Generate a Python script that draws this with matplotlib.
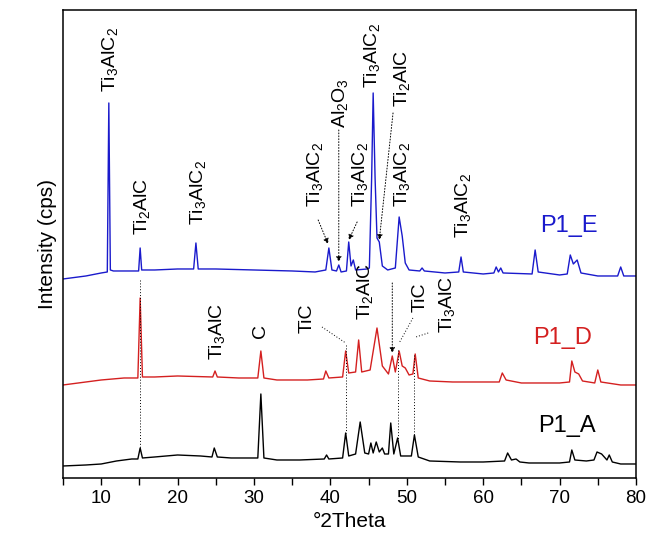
import numpy as np
import matplotlib
matplotlib.use("Agg")
from matplotlib import pyplot as plt

plt.rcParams['font.family'] = ['Liberation Sans', 'DejaVu Sans']
plt.rcParams['mathtext.default'] = 'regular'

# P1_A pattern (stacked intensity, arbitrary units)
a_x = [5, 8, 10, 12, 14, 14.8, 15.1, 15.4, 17, 20, 23, 24.5, 24.8, 25.2, 27, 30.5, 30.9, 31.3,
       33, 36, 39.2, 39.5, 39.8, 41.6, 42.0, 42.4, 43.3, 43.9, 44.5, 45.0, 45.3, 45.6, 46.0, 46.4,
       46.8, 47.1, 47.6, 47.9, 48.3, 48.8, 49.2, 50.6, 51.0, 51.5, 53, 57, 60, 62.8, 63.2, 63.7,
       64.3, 64.8, 66, 70, 71.3, 71.6, 72.0, 73.5, 74.5, 74.9, 75.5, 76.2, 76.5, 76.9, 78, 80]
a_y = [12, 13, 14, 17, 19, 19, 30, 20, 21, 23, 22, 21, 30, 21, 20, 20, 84, 20,
       18, 18, 19, 23, 19, 20, 45, 22, 24, 56, 25, 24, 35, 25, 36, 26,
       30, 24, 24, 55, 24, 40, 22, 22, 43, 21, 17, 16, 16, 17, 25, 18,
       19, 16, 15, 15, 16, 28, 18, 17, 18, 26, 24, 18, 23, 16, 14, 14]

# P1_D pattern
d_x = [5, 7, 10, 13, 14.8, 15.1, 15.4, 17, 20, 24.6, 24.9, 25.2, 28, 30.5, 30.9, 31.3, 33, 37,
       39.1, 39.4, 39.8, 41.6, 42.0, 42.4, 43.3, 43.7, 44.1, 45.2, 46.1, 46.8, 47.6, 48.1, 48.5,
       49.0, 49.4, 49.8, 50.3, 50.8, 51.1, 51.5, 53, 56, 60, 62.1, 62.5, 63.0, 65, 70, 71.3,
       71.6, 72.0, 72.5, 73.0, 74.6, 75.0, 75.4, 78, 80]
d_y = [93, 95, 98, 100, 100, 180, 101, 101, 102, 101, 107, 101, 100, 100, 127, 100, 98, 98,
       99, 107, 100, 101, 127, 105, 106, 138, 106, 108, 150, 112, 104, 122, 106,
       127, 112, 110, 103, 104, 124, 100, 97, 96, 96, 96, 105, 98, 95, 95, 96,
       117, 106, 104, 97, 95, 108, 96, 93, 93]

# P1_E pattern
e_x = [5, 8, 10, 10.8, 11.0, 11.2, 11.6, 13, 14.9, 15.1, 15.3, 17, 20, 22.1, 22.4, 22.7, 25, 30,
       35, 38, 39.4, 39.8, 40.2, 40.8, 41.1, 41.4, 42.1, 42.4, 42.7, 43.0, 43.3, 44.8, 45.1,
       45.4, 45.6, 45.85, 46.1, 46.4, 46.8, 47.5, 48.5, 49.0, 49.4, 49.8, 50.3, 51.7, 52.0,
       52.3, 55, 56.8, 57.1, 57.4, 60, 61.4, 61.7, 62.0, 62.3, 62.6, 66.4, 66.8, 67.2, 70,
       71.0, 71.4, 71.8, 72.3, 72.8, 75, 77.6, 78.0, 78.4, 80]
e_y = [199, 202, 205, 206, 375, 208, 207, 207, 207, 230, 208, 208, 209, 209, 235, 209, 209, 208,
       207, 206, 208, 230, 208, 207, 213, 206, 207, 236, 212, 218, 208, 209, 210,
       300, 385, 300, 240, 236, 212, 208, 210, 261, 242, 215, 208, 207, 210,
       207, 205, 206, 221, 206, 204, 205, 211, 206, 210, 205, 204, 228, 206, 203,
       204, 223, 214, 218, 205, 202, 202, 211, 202, 202]

# phase labels: text, x, bottom of text
labels = [
    ('Ti$_3$AlC$_2$', 11.1, 386), ('Ti$_2$AlC', 15.4, 243), ('Ti$_3$AlC$_2$', 22.7, 253),
    ('Ti$_3$AlC$_2$', 38.0, 271), ('Al$_2$O$_3$', 41.3, 350), ('Ti$_3$AlC$_2$', 43.9, 271),
    ('Ti$_3$AlC$_2$', 45.5, 390), ('Ti$_2$AlC', 49.4, 371), ('Ti$_3$AlC$_2$', 49.4, 271),
    ('Ti$_3$AlC$_2$', 57.4, 240),
    ('Ti$_3$AlC', 25.2, 118), ('C', 30.8, 140), ('TiC', 37.0, 145), ('Ti$_2$AlC', 44.5, 158),
    ('TiC', 51.7, 166), ('Ti$_3$AlC', 55.3, 145),
]

# dotted pointers: x0, y0, x1, y1, arrow head
pointers = [
    (38.4, 258, 39.7, 234, True), (41.1, 348, 41.1, 216, True), (43.5, 256, 42.4, 238, True),
    (48.2, 365, 46.4, 238, True), (48.1, 195, 48.1, 125, True),
    (15.1, 198, 15.1, 28, False), (42.0, 133, 42.0, 45, False), (48.9, 128, 48.9, 38, False),
    (51.0, 123, 51.0, 43, False), (38.9, 151, 42.0, 135, False), (50.8, 160, 49.0, 135, False),
    (52.8, 145, 51.2, 141, False),
]

samples = [('P1_A', 67.2, 52, 'black'), ('P1_D', 66.5, 140, '#d42020'), ('P1_E', 67.4, 252, '#1a1acc')]

fig = plt.figure(figsize=(6.46, 5.42), dpi=100)
ax = fig.add_axes([0.0975, 0.1181, 0.887, 0.8635])

ax.plot(a_x, a_y, color='black', lw=1.0)
ax.plot(d_x, d_y, color='#d42020', lw=1.0)
ax.plot(e_x, e_y, color='#1a1acc', lw=1.0)

for x0, y0, x1, y1, head in pointers:
    if head:
        ax.annotate('', xy=(x1, y1), xytext=(x0, y0),
                    arrowprops=dict(arrowstyle='-|>', ls=(0, (1, 2)), lw=0.7, color='black',
                                    mutation_scale=8, shrinkA=0, shrinkB=0))
    else:
        ax.plot([x0, x1], [y0, y1], ls=(0, (1, 2)), lw=0.7, color='black')

for txt, x, y in labels:
    ax.text(x, y, txt, rotation=90, ha='center', va='bottom', fontsize=14)

for name, x, y, c in samples:
    ax.text(x, y, name, color=c, fontsize=17, ha='left', va='center')

ax.set_xlim(5, 80)
ax.set_ylim(0, 468)
ax.set_xticks(np.arange(10, 81, 10))
ax.set_xticks(np.arange(5, 81, 10), minor=True)
ax.tick_params(axis='x', which='both', direction='out', length=5, width=1, labelsize=13.5)
ax.set_yticks([])
for s in ax.spines.values():
    s.set_linewidth(1.1)
ax.set_xlabel('°2Theta', fontsize=15)
ax.set_ylabel('Intensity (cps)', fontsize=15)

fig.savefig('out.png', dpi=100)
